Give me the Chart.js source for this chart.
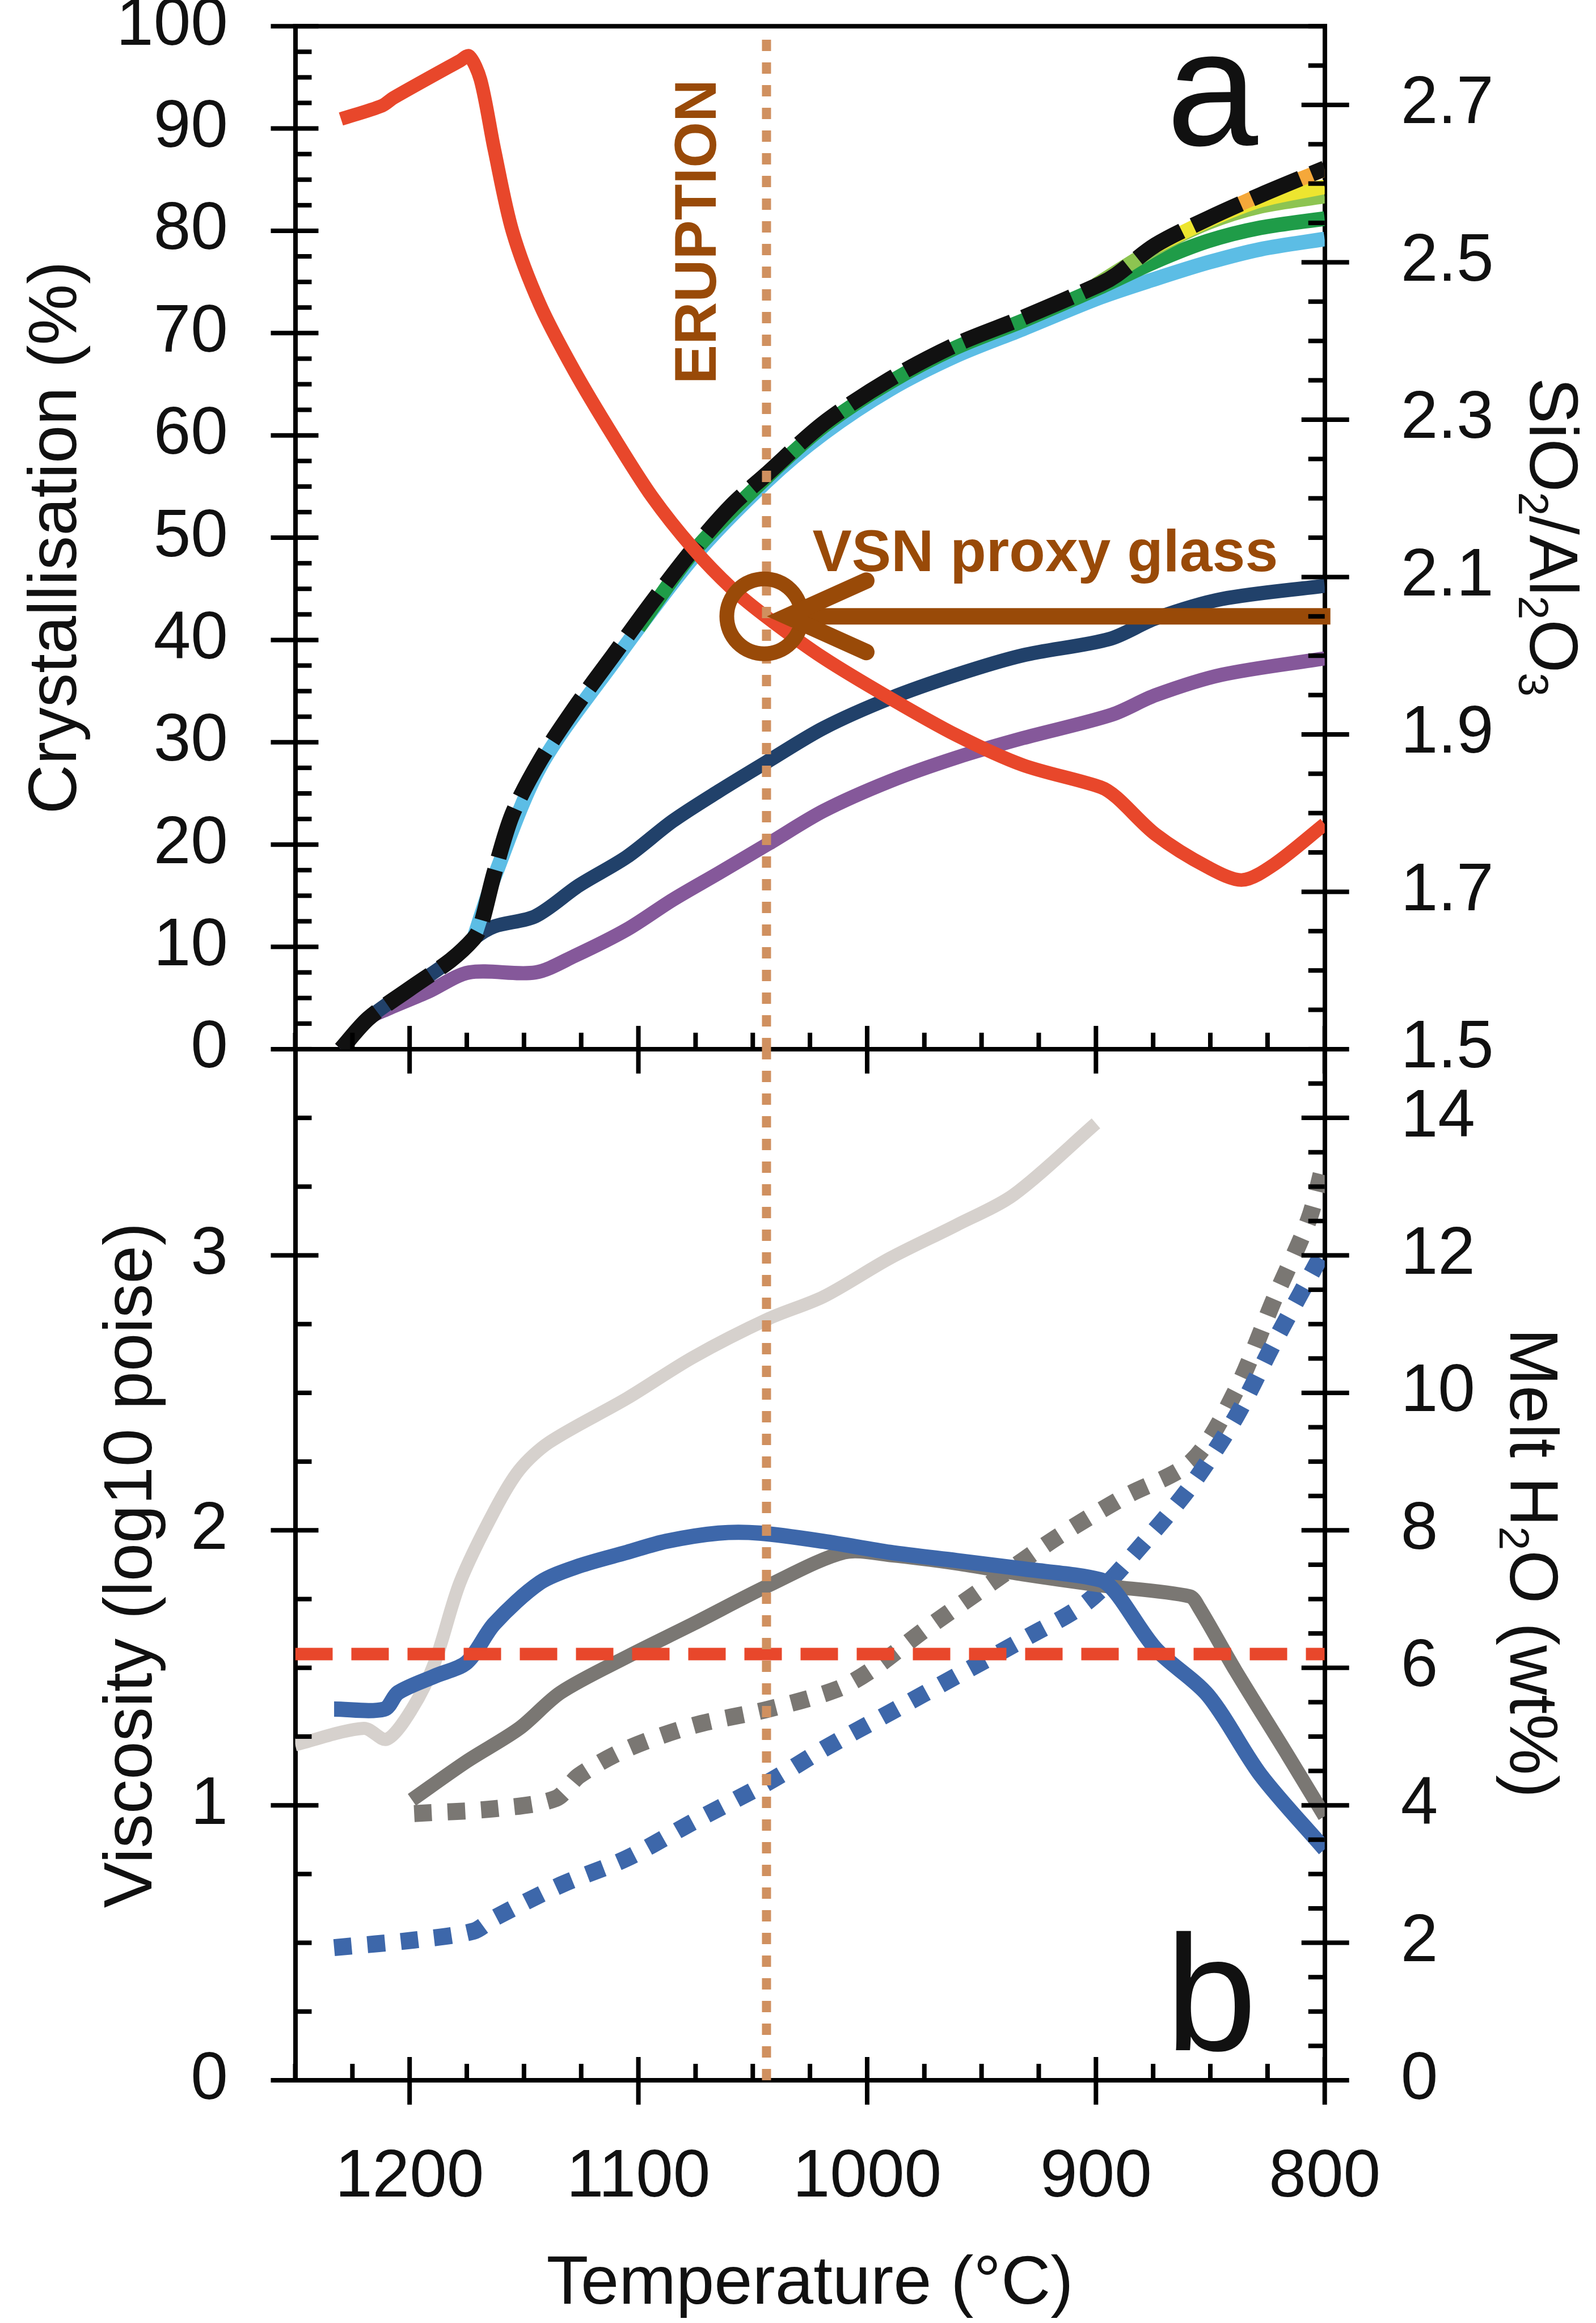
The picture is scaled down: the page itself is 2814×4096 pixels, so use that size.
<!DOCTYPE html>
<html>
<head>
<meta charset="utf-8">
<title>Crystallisation, melt chemistry and viscosity versus temperature</title>
<script src="https://cdn.jsdelivr.net/npm/chart.js@4.4.1/dist/chart.umd.min.js"></script>
<style>
  html, body { margin: 0; padding: 0; background: #ffffff; }
  body { width: 2814px; height: 4096px; position: relative; overflow: hidden; }
  canvas { position: absolute; left: 0; }
  #panelA { top: 0; }
  #panelB { top: 1790px; }
</style>
</head>
<body>
<canvas id="panelA" width="2814" height="1960"></canvas>
<canvas id="panelB" width="2814" height="2306"></canvas>
<script>
// ---------------- data ----------------
const tempTicks  = [1200, 1100, 1000, 900, 800];
const crystTicks = [0, 10, 20, 30, 40, 50, 60, 70, 80, 90, 100];
const ratioTicks = [1.5, 1.7, 1.9, 2.1, 2.3, 2.5, 2.7];
const viscTicks  = [0, 1, 2, 3];
const waterTicks = [0, 2, 4, 6, 8, 10, 12, 14];

const eruptionTemp  = 1044;
const vsnGlassRatio = 2.05;

// panel a: melt SiO2/Al2O3 (right axis)
const ratioTemp = [1230, 1212, 1207, 1178, 1174, 1169, 1163, 1155, 1143, 1128, 1111, 1094, 1076, 1059, 1043, 1019, 990, 961, 932, 898, 891, 874, 851, 836, 822, 800];
const ratioMelt = [2.682, 2.699, 2.709, 2.756, 2.762, 2.732, 2.644, 2.539, 2.446, 2.362, 2.279, 2.202, 2.136, 2.085, 2.047, 1.997, 1.946, 1.899, 1.861, 1.833, 1.820, 1.773, 1.731, 1.715, 1.735, 1.786];

// panel a: crystallisation (%), left axis
const totalTemp  = [1230, 1218, 1200, 1182, 1172, 1169, 1163, 1155, 1143, 1128, 1111, 1094, 1076, 1059, 1044, 1019, 990, 961, 932, 898, 891, 874, 851, 828, 800];
const totalCryst = [0, 3.0, 5.9, 8.7, 10.8, 12.0, 17.2, 23.0, 28.2, 33.3, 38.5, 43.7, 48.9, 53.2, 56.2, 61.2, 65.5, 68.9, 71.5, 74.8, 75.7, 78.6, 81.2, 83.5, 86.1];

const lightBlueTemp  = [1172, 1163, 1143, 1111, 1076, 1044, 1019, 990, 961, 932, 898, 874, 851, 828, 800];
const lightBlueCryst = [10.8, 16.8, 27.6, 37.8, 48.1, 55.5, 60.2, 64.5, 67.8, 70.4, 73.5, 75.3, 76.9, 78.2, 79.2];

const greenTemp  = [1100, 1076, 1044, 1019, 990, 961, 932, 898, 874, 851, 828, 800];
const greenCryst = [41.2, 48.6, 55.9, 60.9, 65.2, 68.6, 71.2, 74.5, 77.0, 79.0, 80.3, 81.2];

const lightGreenTemp  = [900, 874, 851, 828, 800];
const lightGreenCryst = [74.7, 78.3, 80.8, 82.4, 83.4];

const yellowTemp  = [874, 851, 828, 800];
const yellowCryst = [78.5, 81.0, 83.0, 84.3];

const orangeTemp  = [851, 828, 800];
const orangeCryst = [81.2, 83.5, 86.0];

const navyTemp  = [1230, 1218, 1200, 1182, 1172, 1163, 1145, 1126, 1105, 1085, 1065, 1043, 1019, 990, 961, 932, 894, 874, 845, 800];
const navyCryst = [0, 3.0, 5.9, 8.7, 10.8, 12.0, 13.0, 16.0, 18.8, 22.3, 25.2, 28.2, 31.4, 34.3, 36.6, 38.5, 40.1, 42.1, 44.0, 45.3];

const purpleTemp  = [1230, 1218, 1210, 1192, 1174, 1145, 1128, 1105, 1085, 1065, 1043, 1019, 990, 961, 932, 893, 874, 845, 800];
const purpleCryst = [0, 3.0, 3.9, 5.6, 7.5, 7.5, 9.1, 11.7, 14.6, 17.2, 20.1, 23.3, 26.2, 28.5, 30.4, 32.7, 34.6, 36.6, 38.2];

// panel b: viscosity (log10 poise), left axis
const paleViscTemp = [1250, 1220, 1210, 1199, 1189, 1178, 1163, 1152, 1139, 1105, 1076, 1043, 1019, 990, 961, 936, 900];
const paleVisc     = [1.22, 1.28, 1.24, 1.35, 1.52, 1.81, 2.07, 2.22, 2.32, 2.48, 2.63, 2.77, 2.85, 2.99, 3.11, 3.22, 3.48];

const blueViscTemp = [1233, 1211, 1205, 1189, 1175, 1163, 1143, 1126, 1105, 1088, 1065, 1047, 1019, 990, 961, 932, 898, 891, 874, 851, 828, 800];
const blueVisc     = [1.35, 1.35, 1.41, 1.47, 1.52, 1.66, 1.81, 1.87, 1.92, 1.96, 1.99, 1.99, 1.96, 1.92, 1.89, 1.86, 1.82, 1.77, 1.57, 1.40, 1.11, 0.84];

const greyViscTemp = [1199, 1175, 1152, 1134, 1105, 1076, 1043, 1010, 990, 961, 932, 898, 859, 855, 839, 816, 800];
const greyVisc     = [1.02, 1.16, 1.28, 1.41, 1.54, 1.66, 1.80, 1.92, 1.91, 1.88, 1.84, 1.80, 1.76, 1.72, 1.49, 1.18, 0.96];

// panel b: melt H2O (wt%), right axis
const greyWaterTemp = [1198, 1163, 1136, 1126, 1105, 1076, 1043, 1013, 998, 975, 946, 917, 888, 858, 839, 822, 807, 800];
const greyWater     = [3.88, 3.95, 4.10, 4.43, 4.82, 5.16, 5.40, 5.69, 5.97, 6.55, 7.23, 7.90, 8.48, 9.01, 10.02, 11.37, 12.52, 13.39];

const blueWaterTemp = [1233, 1198, 1172, 1163, 1134, 1105, 1076, 1043, 1019, 990, 961, 932, 903, 877, 858, 839, 822, 800];
const blueWater     = [1.93, 2.04, 2.17, 2.36, 2.84, 3.23, 3.76, 4.34, 4.82, 5.35, 5.88, 6.41, 6.98, 7.90, 8.67, 9.64, 10.74, 12.09];

const saturationTemp  = [1250, 800];
const saturationWater = [6.2, 6.2];

// ---------------- layout & style ----------------
const W = 2814;
const FONT = '"Liberation Sans", Arial, sans-serif';
const TICK_FONT = 118, TITLE_FONT = 121, NOTE_FONT = 104, PANEL_FONT = 290;
const AXIS_W = 8, TICK_W = 8, MAJ_OUT = 43, MAJ_IN = 41, MIN_IN = 29;
const PLOT_L = 520.5, PLOT_R = 2335.7;
const A_H = 1960, A_TOP = 46.2, A_BOTTOM = 1849.9;
const B_OFF = 1790, B_H = 2306, B_TOP = A_BOTTOM - B_OFF, B_BOTTOM = 3668 - B_OFF;
const BROWN = '#994A08';
const INK = '#111111';
const SMOOTH = 0.3;

const pts = (T, V) => T.map((t, i) => ({ x: t, y: V[i] }));

function lineSet(T, V, axis, color, width, order, dash, tension) {
  return {
    data: pts(T, V), yAxisID: axis, borderColor: color, borderWidth: width,
    borderDash: dash || [], order, fill: false, pointRadius: 0,
    tension: tension === undefined ? SMOOTH : tension,
    borderCapStyle: 'butt', borderJoinStyle: 'round'
  };
}

function xScale(showLabels, height) {
  return {
    type: 'linear', position: 'bottom', min: 800, max: 1250, reverse: true,
    grid: { display: false, drawTicks: false },
    border: { display: true, color: '#000', width: AXIS_W },
    ticks: {
      display: showLabels, color: INK, padding: 102, maxRotation: 0, minRotation: 0, autoSkip: false,
      font: { family: FONT, size: TICK_FONT, lineHeight: 1.2 }, callback: v => String(v)
    },
    afterBuildTicks: s => { s.ticks = tempTicks.map(v => ({ value: v })); },
    afterFit: s => { s.height = height; s.paddingLeft = s.paddingRight = s.paddingTop = s.paddingBottom = 0; }
  };
}

function yScale(position, min, max, ticks, fmt, pad, width) {
  return {
    type: 'linear', position, min, max,
    grid: { display: false, drawTicks: false },
    border: { display: true, color: '#000', width: AXIS_W },
    ticks: {
      color: INK, padding: pad, autoSkip: false,
      font: { family: FONT, size: TICK_FONT, lineHeight: 1.2 }, callback: fmt
    },
    afterBuildTicks: s => { s.ticks = ticks.map(v => ({ value: v })); },
    afterFit: s => { s.width = width; s.paddingLeft = s.paddingRight = s.paddingTop = s.paddingBottom = 0; }
  };
}

function seg(ctx, x1, y1, x2, y2) {
  ctx.beginPath(); ctx.moveTo(x1, y1); ctx.lineTo(x2, y2); ctx.stroke();
}

// major ticks cross the axis line, minor ticks point into the plot
function drawTicks(chart, list) {
  const ctx = chart.ctx, a = chart.chartArea;
  ctx.save();
  ctx.strokeStyle = '#000'; ctx.lineWidth = TICK_W; ctx.lineCap = 'butt';
  for (const c of list) {
    const s = chart.scales[c.id];
    const n = Math.round((s.max - s.min) / c.step);
    for (let i = 0; i <= n; i++) {
      const v = s.min + i * c.step;
      const major = c.majors.some(m => Math.abs(m - v) < c.step / 10);
      const p = s.getPixelForValue(v);
      if (c.side === 'left') {
        if (major) seg(ctx, a.left - MAJ_OUT, p, a.left + MAJ_IN, p); else seg(ctx, a.left, p, a.left + MIN_IN, p);
      } else if (c.side === 'right') {
        if (major) seg(ctx, a.right - MAJ_IN, p, a.right + MAJ_OUT, p); else seg(ctx, a.right - MIN_IN, p, a.right, p);
      } else {
        if (major) seg(ctx, p, a.bottom - MAJ_IN, p, a.bottom + MAJ_OUT); else seg(ctx, p, a.bottom - MIN_IN, p, a.bottom);
      }
    }
  }
  ctx.restore();
}

// text made of runs, some of them subscripts, centred on the origin
function richText(ctx, parts, size) {
  const SUB = 0.62, DROP = 0.16;
  let total = 0;
  const runs = parts.map(p => {
    const sz = p.sub ? size * SUB : size;
    ctx.font = `${sz}px ${FONT}`;
    const w = ctx.measureText(p.t).width;
    total += w;
    return { t: p.t, sz, w, dy: p.sub ? size * DROP : 0 };
  });
  let x = -total / 2;
  ctx.textAlign = 'left'; ctx.textBaseline = 'alphabetic';
  for (const r of runs) {
    ctx.font = `${r.sz}px ${FONT}`;
    ctx.fillText(r.t, x, r.dy);
    x += r.w;
  }
}

function rotatedTitle(ctx, parts, x, y, angle) {
  ctx.save();
  ctx.translate(x, y); ctx.rotate(angle);
  ctx.fillStyle = INK;
  richText(ctx, parts, TITLE_FONT);
  ctx.restore();
}

// ---------------- panel a ----------------
const panelAPlugin = {
  id: 'panelAFrame',
  afterDatasetsDraw(chart) {
    const ctx = chart.ctx;
    const cx = chart.scales.x.getPixelForValue(eruptionTemp);
    const cy = chart.scales.y2.getPixelForValue(vsnGlassRatio);
    ctx.save();
    ctx.fillStyle = BROWN; ctx.strokeStyle = BROWN;
    // ring around the eruption point
    ctx.lineWidth = 26;
    ctx.beginPath();
    ctx.arc(cx - 4, cy, 66, 0, Math.PI * 2);
    ctx.stroke();
    // arrow from the right axis
    ctx.lineWidth = 29; ctx.lineCap = 'butt';
    seg(ctx, chart.chartArea.right + 10, cy, cx + 40, cy);
    ctx.lineCap = 'round'; ctx.lineJoin = 'miter'; ctx.miterLimit = 10;
    ctx.beginPath();
    ctx.moveTo(cx + 176, cy - 63);
    ctx.lineTo(cx + 36, cy);
    ctx.lineTo(cx + 176, cy + 63);
    ctx.stroke();
    // notes
    ctx.font = `bold ${NOTE_FONT}px ${FONT}`;
    ctx.textAlign = 'left'; ctx.textBaseline = 'alphabetic';
    ctx.fillText('VSN proxy glass', cx + 81, cy - 80);
    ctx.save();
    ctx.translate(cx - 89, 408.5); ctx.rotate(-Math.PI / 2);
    ctx.textAlign = 'center';
    ctx.fillText('ERUPTION', 0, 0);
    ctx.restore();
    ctx.restore();
  },
  afterDraw(chart) {
    const ctx = chart.ctx, a = chart.chartArea;
    ctx.save();
    ctx.strokeStyle = '#000'; ctx.lineWidth = AXIS_W; ctx.lineCap = 'butt';
    seg(ctx, a.left - AXIS_W / 2, a.top, a.right + AXIS_W / 2, a.top);
    ctx.restore();
    drawTicks(chart, [
      { id: 'y',  side: 'left',   step: 2.5,  majors: crystTicks },
      { id: 'y2', side: 'right',  step: 0.05, majors: ratioTicks },
      { id: 'x',  side: 'bottom', step: 25,   majors: tempTicks }
    ]);
    rotatedTitle(ctx, [{ t: 'Crystallisation (%)' }], 134.4, 948, -Math.PI / 2);
    rotatedTitle(ctx, [{ t: 'SiO' }, { t: '2', sub: true }, { t: '/Al' }, { t: '2', sub: true }, { t: 'O' }, { t: '3', sub: true }], 2697.5, 947, Math.PI / 2);
    ctx.save();
    ctx.fillStyle = INK; ctx.font = `${PANEL_FONT}px ${FONT}`;
    ctx.textAlign = 'right'; ctx.textBaseline = 'alphabetic';
    ctx.fillText('a', 2218, 255.6);
    ctx.restore();
  }
};

new Chart(document.getElementById('panelA'), {
  type: 'line',
  data: {
    datasets: [
      lineSet([eruptionTemp, eruptionTemp], [0, 100], 'y', '#D0905F', 16, 1, [20, 20], 0),
      lineSet(ratioTemp, ratioMelt, 'y2', '#E8472B', 24, 2),
      lineSet(totalTemp, totalCryst, 'y', '#111111', 28, 3, [92, 22]),
      lineSet(orangeTemp, orangeCryst, 'y', '#F5A83A', 26, 4),
      lineSet(yellowTemp, yellowCryst, 'y', '#EDE52F', 26, 5),
      lineSet(lightGreenTemp, lightGreenCryst, 'y', '#8DC451', 26, 6),
      lineSet(greenTemp, greenCryst, 'y', '#1F9C48', 26, 7),
      lineSet(lightBlueTemp, lightBlueCryst, 'y', '#5CBDE5', 26, 8),
      lineSet(navyTemp, navyCryst, 'y', '#21416A', 25, 9),
      lineSet(purpleTemp, purpleCryst, 'y', '#85589A', 25, 10)
    ]
  },
  options: {
    responsive: false, animation: false, devicePixelRatio: 1,
    layout: { autoPadding: false, padding: { top: A_TOP, left: 0, right: 0, bottom: 0 } },
    plugins: { legend: { display: false }, tooltip: { enabled: false } },
    scales: {
      x: xScale(false, A_H - A_BOTTOM),
      y: yScale('left', 0, 100, crystTicks, v => String(v), 118.5, PLOT_L),
      y2: yScale('right', 1.5, 2.8, ratioTicks, v => v.toFixed(1), 134, W - PLOT_R)
    }
  },
  plugins: [panelAPlugin]
});

// ---------------- panel b ----------------
const panelBPlugin = {
  id: 'panelBFrame',
  afterDraw(chart) {
    const ctx = chart.ctx;
    drawTicks(chart, [
      { id: 'y',  side: 'left',   step: 0.25, majors: viscTicks },
      { id: 'y2', side: 'right',  step: 0.5,  majors: waterTicks },
      { id: 'x',  side: 'bottom', step: 25,   majors: tempTicks }
    ]);
    rotatedTitle(ctx, [{ t: 'Viscosity (log10 poise)' }], 266.6, 2760 - B_OFF, -Math.PI / 2);
    rotatedTitle(ctx, [{ t: 'Melt H' }, { t: '2', sub: true }, { t: 'O (wt%)' }], 2663.4, 2756 - B_OFF, Math.PI / 2);
    rotatedTitle(ctx, [{ t: 'Temperature (°C)' }], 1428, 4062 - B_OFF, 0);
    ctx.save();
    ctx.fillStyle = INK; ctx.font = `${PANEL_FONT}px ${FONT}`;
    ctx.textAlign = 'right'; ctx.textBaseline = 'alphabetic';
    ctx.fillText('b', 2216, 3615 - B_OFF);
    ctx.restore();
  }
};

new Chart(document.getElementById('panelB'), {
  type: 'line',
  data: {
    datasets: [
      lineSet([eruptionTemp, eruptionTemp], [0, 3.75], 'y', '#D0905F', 16, 1, [20, 20], 0),
      lineSet(saturationTemp, saturationWater, 'y2', '#E8472B', 22, 2, [66, 33], 0),
      lineSet(blueViscTemp, blueVisc, 'y', '#3D67AA', 27, 3),
      lineSet(greyViscTemp, greyVisc, 'y', '#7A7773', 25, 4),
      lineSet(blueWaterTemp, blueWater, 'y2', '#3D67AA', 30, 5, [31, 28]),
      lineSet(greyWaterTemp, greyWater, 'y2', '#7A7773', 30, 6, [31, 28]),
      lineSet(paleViscTemp, paleVisc, 'y', '#D6D1CD', 23, 7)
    ]
  },
  options: {
    responsive: false, animation: false, devicePixelRatio: 1,
    layout: { autoPadding: false, padding: { top: B_TOP, left: 0, right: 0, bottom: 0 } },
    plugins: { legend: { display: false }, tooltip: { enabled: false } },
    scales: {
      x: xScale(true, B_H - B_BOTTOM),
      y: yScale('left', 0, 3.75, viscTicks, v => String(v), 118.5, PLOT_L),
      y2: yScale('right', 0, 15, waterTicks, v => String(v), 134, W - PLOT_R)
    }
  },
  plugins: [panelBPlugin]
});
</script>
</body>
</html>
